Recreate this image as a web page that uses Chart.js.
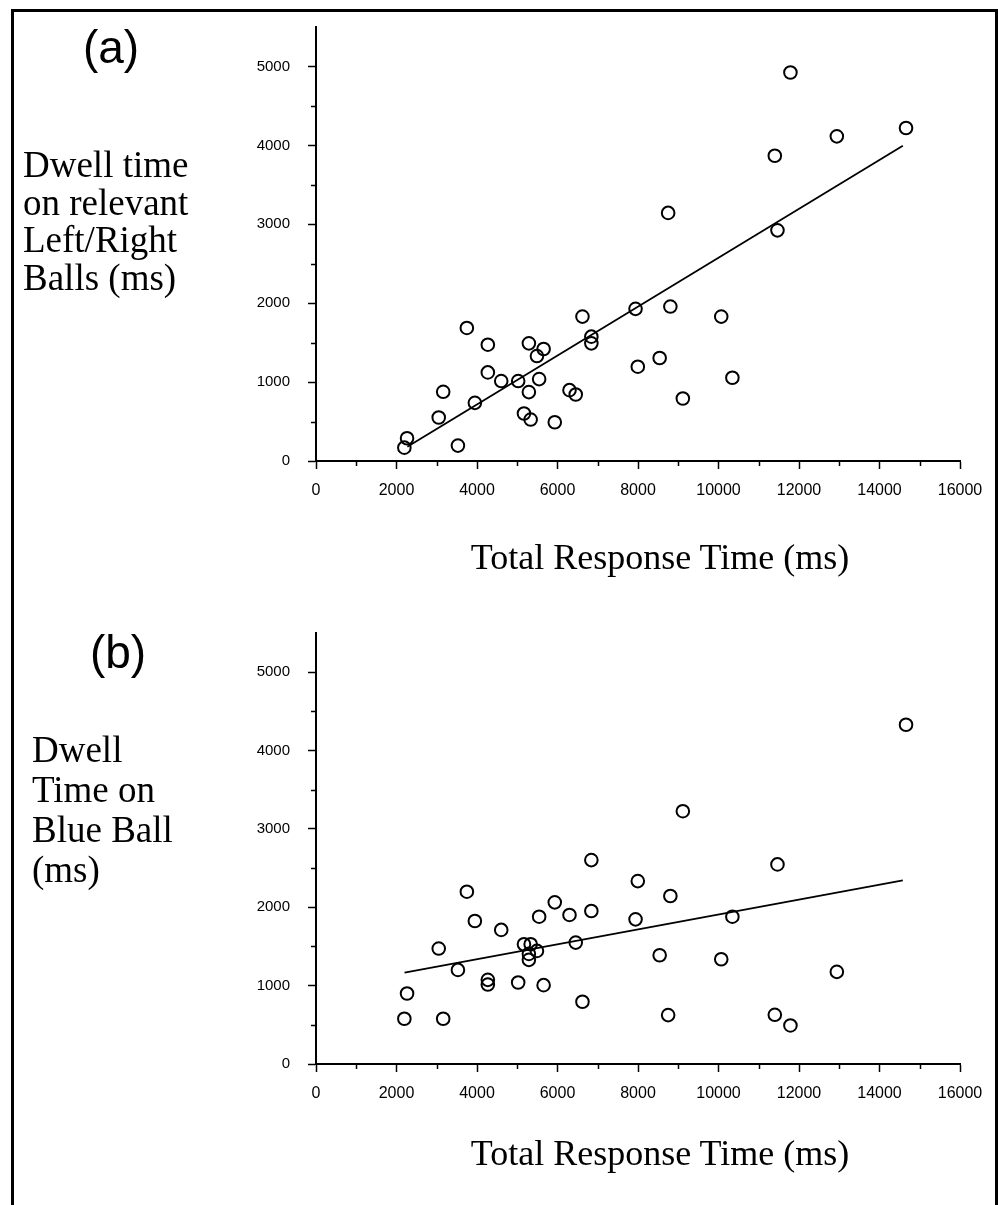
<!DOCTYPE html>
<html>
<head>
<meta charset="utf-8">
<title>Dwell time vs total response time</title>
<script src="https://cdn.jsdelivr.net/npm/chart.js@4/dist/chart.umd.min.js"></script>
<style>
    html, body { margin: 0; padding: 0; background: #fff; overflow: hidden; }
    #page { position: relative; width: 998px; height: 1205px; }
    #frame {
        position: absolute; left: 11px; top: 9px; width: 987px; height: 1210px;
        box-sizing: border-box; border: 3px solid #000;
    }
    canvas { position: absolute; left: 0; }
    .panel { position: absolute; font-family: "Liberation Sans", Arial, sans-serif; font-size: 46px; line-height: 46px; width: 100px; text-align: center; color: #000; }
    .ytitle { position: absolute; font-family: "Liberation Serif", "Times New Roman", serif; font-size: 37px; color: #000; white-space: nowrap; }
    .xtitle { position: absolute; font-family: "Liberation Serif", "Times New Roman", serif; font-size: 36px; line-height: 40px; width: 600px; text-align: center; color: #000; white-space: nowrap; }
</style>
</head>
<body>
<div id="page">
    <div id="frame"></div>
    <canvas id="chartA" width="998" height="600" style="top:0"></canvas>
    <canvas id="chartB" width="998" height="605" style="top:600px"></canvas>

    <div class="panel" style="left:61px; top:24px">(a)</div>
    <div class="ytitle" style="left:23px; top:146px; line-height:37.5px">Dwell time<br>on relevant<br>Left/Right<br>Balls (ms)</div>
    <div class="xtitle" style="left:360px; top:537px">Total Response Time (ms)</div>

    <div class="panel" style="left:68px; top:629px">(b)</div>
    <div class="ytitle" style="left:32px; top:730px; line-height:40px">Dwell<br>Time on<br>Blue Ball<br>(ms)</div>
    <div class="xtitle" style="left:360px; top:1133px">Total Response Time (ms)</div>
</div>

<script>
// Total response time per trial (ms)
const responseTime = [2195, 2262, 3049, 3160, 3526, 3748, 3947, 4269, 4269, 4602,
    5023, 5167, 5289, 5289, 5333, 5489, 5655, 5544, 5932, 6298,
    6453, 6620, 6841, 6841, 7939, 7995, 8538, 8749, 8804, 9114,
    10068, 10345, 11399, 11465, 11787, 12940, 14659];

// (a) dwell time on relevant left/right balls (ms)
const dwellLeftRight = [169, 288, 551, 877, 195, 1686, 737, 1474, 1123, 1013,
    1013, 602, 1491, 873, 525, 1330, 1419, 1038, 491, 898,
    843, 1830, 1576, 1491, 1928, 1195, 1305, 3144, 1957, 792,
    1830, 1055, 3868, 2923, 4923, 4114, 4220];

// (b) dwell time on blue ball (ms)
const dwellBlue = [577, 900, 1473, 577, 1201, 2199, 1825, 1074, 1014, 1711,
    1040, 1528, 1329, 1405, 1528, 1443, 1006, 1880, 2063, 1902,
    1549, 794, 2602, 1952, 1846, 2334, 1388, 624, 2144, 3226,
    1337, 1880, 628, 2547, 492, 1176, 4329];

// regression line end points
const fitXLeftRight = [2270, 14580];
const fitYLeftRight = [180, 3995];
const fitXBlue = [2200, 14580];
const fitYBlue = [1167, 2343];

// tick values
const xTicks = [0, 2000, 4000, 6000, 8000, 10000, 12000, 14000, 16000];
const yTicks = [0, 1000, 2000, 3000, 4000, 5000];
const xMinorTicks = [1000, 3000, 5000, 7000, 9000, 11000, 13000, 15000];
const yMinorTicks = [500, 1500, 2500, 3500, 4500];

const minorTickPlugin = {
    id: 'minorTicks',
    afterDraw(chart) {
        const { ctx, scales: { x, y } } = chart;
        ctx.save();
        ctx.strokeStyle = '#000';
        ctx.lineWidth = 1.5;
        ctx.beginPath();
        xMinorTicks.forEach(v => {
            const px = Math.round(x.getPixelForValue(v)) + 0.5;
            ctx.moveTo(px, x.top);
            ctx.lineTo(px, x.top + 5);
        });
        yMinorTicks.forEach(v => {
            const py = Math.round(y.getPixelForValue(v)) + 0.5;
            ctx.moveTo(y.right, py);
            ctx.lineTo(y.right - 5, py);
        });
        ctx.stroke();
        ctx.restore();
    }
};

function createPanel(canvasId, yValues, fitX, fitY, topPad, xAxisHeight) {
    const ctx = document.getElementById(canvasId).getContext('2d');
    const points = responseTime.map((t, i) => ({ x: t, y: yValues[i] }));
    const fit = fitX.map((t, i) => ({ x: t, y: fitY[i] }));

    return new Chart(ctx, {
        type: 'scatter',
        data: {
            datasets: [{
                data: points,
                pointStyle: 'circle',
                pointRadius: 6.3,
                pointHoverRadius: 6.3,
                pointBorderWidth: 2,
                borderColor: '#000',
                backgroundColor: 'rgba(0,0,0,0)'
            }, {
                type: 'line',
                data: fit,
                borderColor: '#000',
                borderWidth: 1.8,
                pointRadius: 0,
                fill: false
            }]
        },
        options: {
            responsive: false,
            animation: false,
            events: [],
            layout: { padding: { left: 0, right: 38, top: topPad, bottom: 0 } },
            plugins: {
                legend: { display: false },
                tooltip: { enabled: false }
            },
            scales: {
                x: {
                    type: 'linear',
                    min: 0,
                    max: 16000,
                    afterFit: s => { s.height = xAxisHeight; },
                    afterBuildTicks: s => { s.ticks = xTicks.map(v => ({ value: v })); },
                    border: { display: true, color: '#000', width: 2 },
                    grid: { drawOnChartArea: false, drawTicks: true, tickLength: 8, tickColor: '#000', tickWidth: 1.5 },
                    ticks: {
                        padding: 12,
                        color: '#000',
                        maxRotation: 0,
                        autoSkip: false,
                        callback: v => String(v),
                        font: { family: '"Liberation Sans", Arial, sans-serif', size: 16 }
                    }
                },
                y: {
                    type: 'linear',
                    min: 0,
                    max: 5500,
                    afterFit: s => { s.width = 316; },
                    afterBuildTicks: s => { s.ticks = yTicks.map(v => ({ value: v })); },
                    border: { display: true, color: '#000', width: 2 },
                    grid: { drawOnChartArea: false, drawTicks: true, tickLength: 8, tickColor: '#000', tickWidth: 1.5 },
                    ticks: {
                        padding: 18,
                        color: '#000',
                        autoSkip: false,
                        callback: v => String(v),
                        font: { family: '"Liberation Sans", Arial, sans-serif', size: 15 }
                    }
                }
            }
        },
        plugins: [minorTickPlugin]
    });
}

createPanel('chartA', dwellLeftRight, fitXLeftRight, fitYLeftRight, 27, 139);
createPanel('chartB', dwellBlue, fitXBlue, fitYBlue, 33, 141);
</script>
</body>
</html>
